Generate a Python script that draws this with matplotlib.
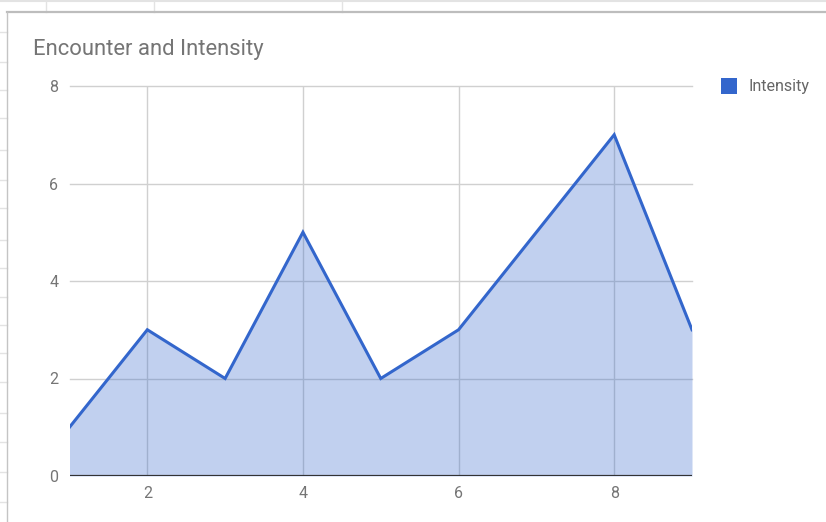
import matplotlib.pyplot as plt
from matplotlib.patches import Rectangle
from matplotlib.lines import Line2D

plt.rcParams["font.family"] = ["Roboto", "DejaVu Sans"]

# series data
encounter = [1, 2, 3, 4, 5, 6, 7, 8, 9]
intensity = [1, 3, 2, 5, 2, 3, 5, 7, 3]
x_ticks = [2, 4, 6, 8]
y_ticks = [0, 2, 4, 6, 8]

W, H = 826, 522
LINE_BLUE = "#3366cc"
TEXT_GREY = "#757575"


def px(x, y):
    """Pixel position (from top-left) to figure fraction."""
    return x / W, 1 - y / H


fig = plt.figure(figsize=(W / 100, H / 100), dpi=100)
fig.patch.set_facecolor("white")

# spreadsheet cells peeking out behind the chart
cell_color = "#e3e3e3"
for cx in [46, 154, 342]:
    fig.add_artist(Line2D(*zip(px(cx, 0), px(cx, 12)), color=cell_color, lw=1))
fig.add_artist(Line2D(*zip(px(0, 1), px(W, 1)), color=cell_color, lw=1.5))
for cy in [32, 62, 90, 118, 150, 180, 208, 240, 268, 297, 325, 353,
           382, 413, 442, 472, 502]:
    fig.add_artist(Line2D(*zip(px(0, cy), px(7, cy)), color=cell_color, lw=1))

# chart frame
fig.add_artist(Line2D(*zip(px(7, 12), px(W, 12)), color="#bdbdbd", lw=1.6))
fig.add_artist(Line2D(*zip(px(7, 12), px(7, H)), color="#c4c4c4", lw=1))

# plot area
x0, x1 = 69.5, 692
y_top, y_bot = 86, 476
l, b = px(x0, y_bot)
r, t = px(x1, y_top)
ax = fig.add_axes([l, b, r - l, t - b])
ax.set_xlim(1, 9)
ax.set_ylim(0, 8)

for v in x_ticks:
    ax.axvline(v, color="#d0d0d0", lw=1, zorder=1)
for v in y_ticks[1:]:
    ax.axhline(v, color="#d0d0d0", lw=1, zorder=1, clip_on=False)

ax.fill_between(encounter, intensity, 0, color=LINE_BLUE, alpha=0.3,
                lw=0, zorder=2)
ax.plot(encounter, intensity, color=LINE_BLUE, lw=2.2, zorder=3,
        solid_joinstyle="miter")
ax.axhline(0, color="#333333", lw=1.6, zorder=4)

for s in ax.spines.values():
    s.set_visible(False)
ax.set_xticks(x_ticks)
ax.set_yticks(y_ticks)
ax.tick_params(length=0, colors=TEXT_GREY, labelsize=11.5)
ax.tick_params(axis="x", pad=7)
ax.tick_params(axis="y", pad=8)
ax.set_facecolor("none")

# title
tx, ty = px(33, 50)
fig.text(tx, ty, "Encounter and Intensity", fontsize=15.8, color=TEXT_GREY,
         ha="left", va="center")

# legend
lx, ly = px(721, 94)
fig.add_artist(Rectangle((lx, ly), 16 / W, 16 / H, transform=fig.transFigure,
                         color=LINE_BLUE, lw=0))
gx, gy = px(749, 86)
fig.text(gx, gy, "Intensity", fontsize=11.6, color="#666666",
         ha="left", va="center")

fig.savefig("out.png", dpi=100)
